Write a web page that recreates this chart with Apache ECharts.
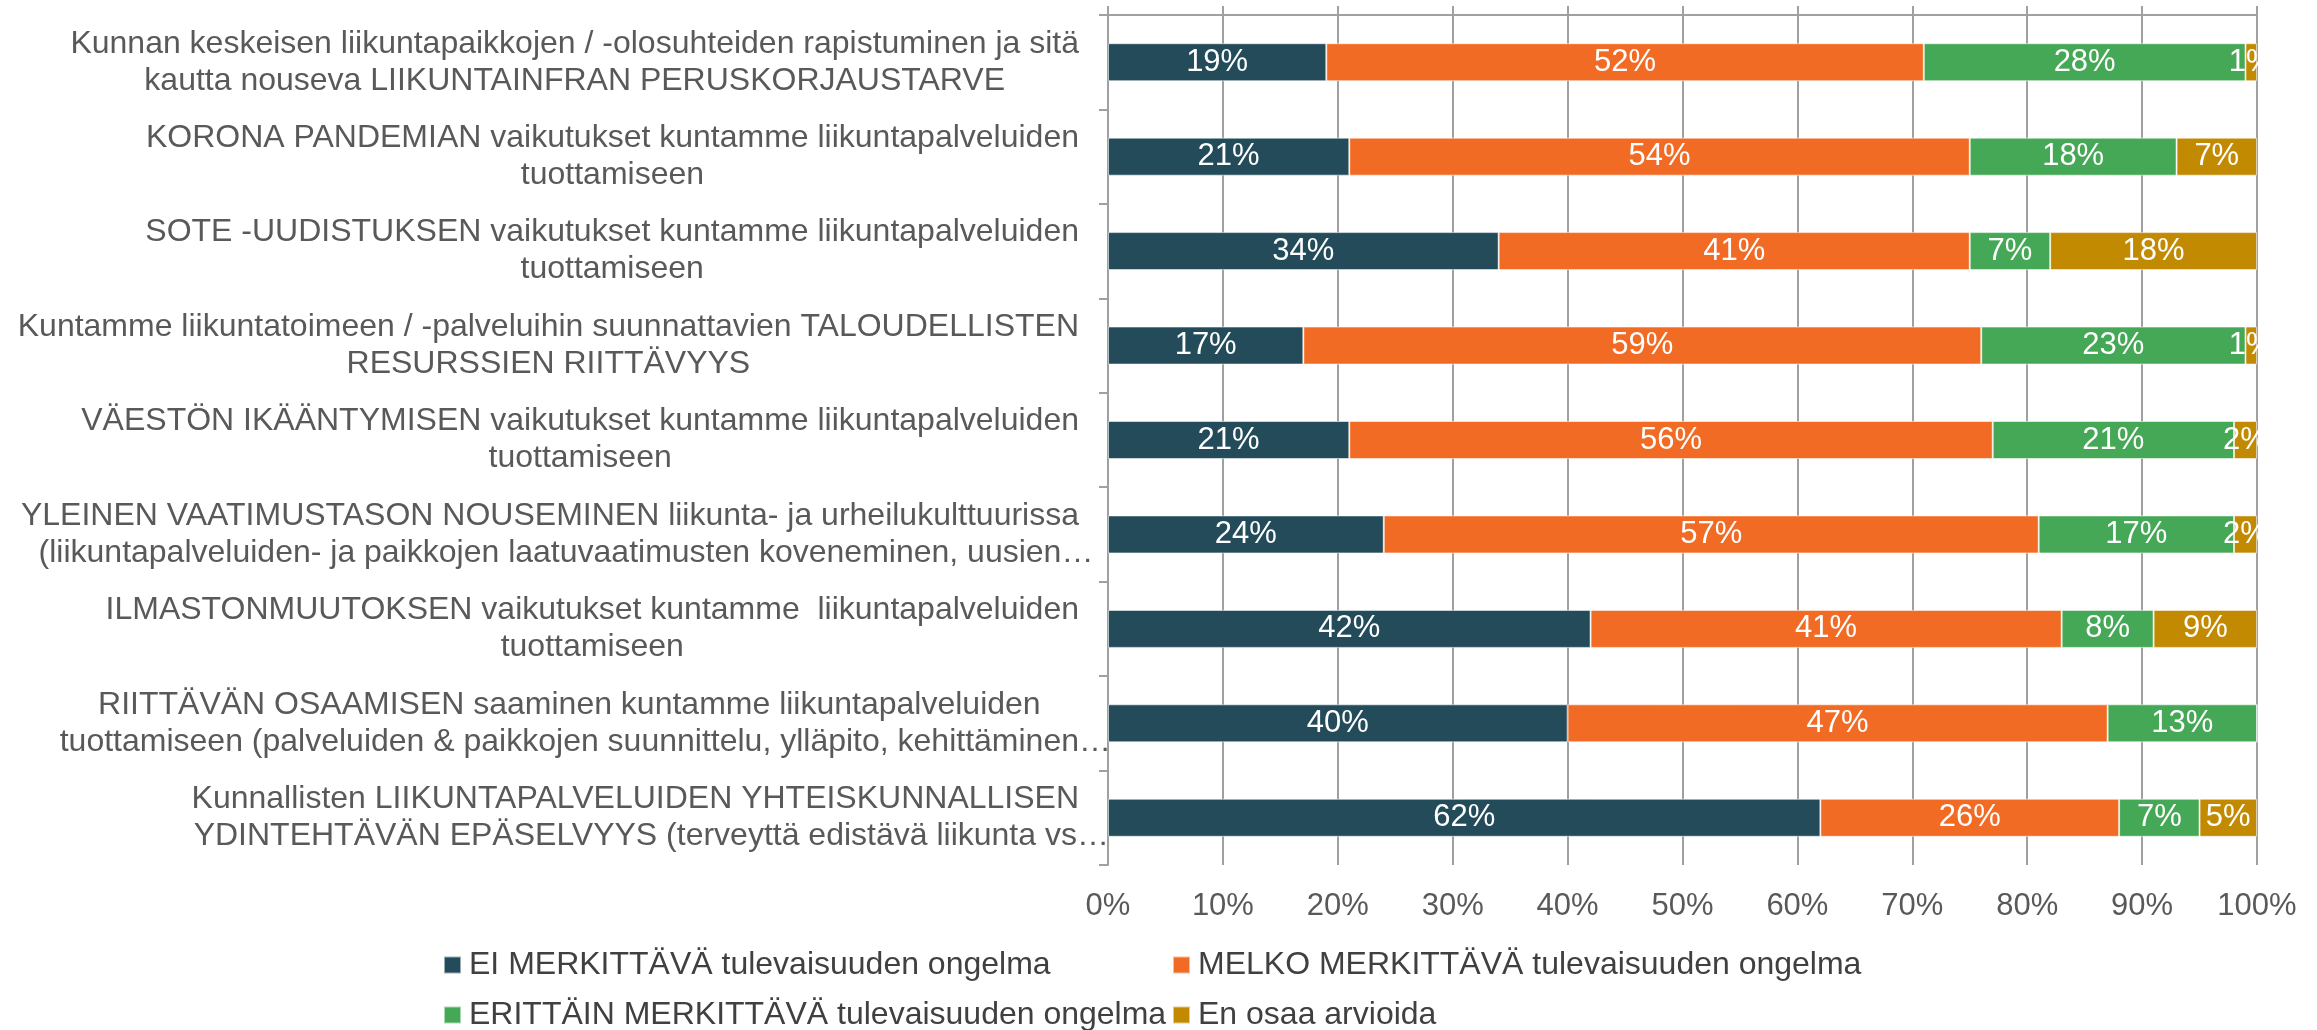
<!DOCTYPE html>
<html>
<head>
<meta charset="utf-8">
<title>Tulevaisuuden ongelmat</title>
<script src="https://cdn.jsdelivr.net/npm/echarts@6/dist/echarts.min.js"></script>
<style>
  html, body { margin: 0; padding: 0; background: #fff; }
  #chart { width: 2317px; height: 1030px; }
</style>
</head>
<body>
<div id="chart"></div>
<script>
const categories = [
  'Kunnan keskeisen liikuntapaikkojen / -olosuhteiden rapistuminen ja sitä\nkautta nouseva LIIKUNTAINFRAN PERUSKORJAUSTARVE',
  'KORONA PANDEMIAN vaikutukset kuntamme liikuntapalveluiden\ntuottamiseen',
  'SOTE -UUDISTUKSEN vaikutukset kuntamme liikuntapalveluiden\ntuottamiseen',
  'Kuntamme liikuntatoimeen / -palveluihin suunnattavien TALOUDELLISTEN\nRESURSSIEN RIITTÄVYYS',
  'VÄESTÖN IKÄÄNTYMISEN vaikutukset kuntamme liikuntapalveluiden\ntuottamiseen',
  'YLEINEN VAATIMUSTASON NOUSEMINEN liikunta- ja urheilukulttuurissa\n(liikuntapalveluiden- ja paikkojen laatuvaatimusten koveneminen, uusien…',
  'ILMASTONMUUTOKSEN vaikutukset kuntamme  liikuntapalveluiden\ntuottamiseen',
  'RIITTÄVÄN OSAAMISEN saaminen kuntamme liikuntapalveluiden\ntuottamiseen (palveluiden & paikkojen suunnittelu, ylläpito, kehittäminen…',
  'Kunnallisten LIIKUNTAPALVELUIDEN YHTEISKUNNALLISEN\nYDINTEHTÄVÄN EPÄSELVYYS (terveyttä edistävä liikunta vs…'
];

const seriesNames = [
  'EI MERKITTÄVÄ tulevaisuuden ongelma',
  'MELKO MERKITTÄVÄ tulevaisuuden ongelma',
  'ERITTÄIN MERKITTÄVÄ tulevaisuuden ongelma',
  'En osaa arvioida'
];

// percentages per category, top to bottom
const eiValues = [19, 21, 34, 17, 21, 24, 42, 40, 62];
const melkoValues = [52, 54, 41, 59, 56, 57, 41, 47, 26];
const erittainValues = [28, 18, 7, 23, 21, 17, 8, 13, 7];
const eosValues = [1, 7, 18, 1, 2, 2, 9, 0, 5];

const xTicks = [0, 10, 20, 30, 40, 50, 60, 70, 80, 90, 100];

const colors = ['#234b5a', '#f26b24', '#45a856', '#c18a00'];
const font = 'Liberation Sans, Arial, sans-serif';
const gridColor = '#a0a0a0';

let chart = echarts.init(document.getElementById('chart'));

let makeSeries = (name, values, color) => {
  return {
    name: name,
    type: 'bar',
    stack: 'total',
    barWidth: 38,
    data: values,
    itemStyle: {
      color: color,
      borderColor: 'rgba(255,255,255,0.55)',
      borderWidth: 1
    },
    label: {
      show: true,
      position: 'inside',
      color: '#fff',
      fontFamily: font,
      fontSize: 31,
      formatter: (p) => p.value ? p.value + '%' : ''
    }
  };
};

// each line centred in its block; a trailing ellipsis hangs past the block like in Excel
let formatCategory = (v) => {
  return v.split('\n').map(l => {
    if (l.endsWith('…')) {
      return '{c|' + l.slice(0, -1) + '}{e|\u2003…}';
    }
    return '{c|' + l + '}';
  }).join('\n');
};

// Excel-style two column legend, one legend per item
let legendPos = [[443, 949], [1172, 949], [443, 999], [1172, 999]];
let legends = seriesNames.map((n, i) => {
  return {
    data: [n],
    left: legendPos[i][0],
    top: legendPos[i][1],
    padding: 0,
    icon: 'rect',
    itemWidth: 17,
    itemHeight: 17,
    selectedMode: false,
    textStyle: {
      fontFamily: font,
      fontSize: 32,
      color: '#404040',
      padding: [0, 0, 0, 3]
    }
  };
});

let labelStyle = {
  align: 'center',
  fontFamily: font,
  fontSize: 32,
  lineHeight: 37,
  color: '#595959'
};

let options = {
  animation: false,
  color: colors,
  grid: {
    left: 1108,
    right: 60,
    top: 15,
    bottom: 165
  },
  legend: legends,
  xAxis: [
    {
      type: 'value',
      min: xTicks[0],
      max: xTicks[xTicks.length - 1],
      interval: 10,
      axisLine: { show: false },
      axisTick: { show: false },
      axisLabel: {
        formatter: '{value}%',
        color: '#595959',
        fontFamily: font,
        fontSize: 31,
        margin: 26
      },
      splitLine: {
        show: true,
        lineStyle: { color: gridColor, width: 2 }
      }
    },
    {
      type: 'value',
      position: 'top',
      min: xTicks[0],
      max: xTicks[xTicks.length - 1],
      interval: 10,
      axisLine: { show: true, lineStyle: { color: gridColor, width: 2 } },
      axisTick: { show: true, length: 9, lineStyle: { color: gridColor, width: 2 } },
      axisLabel: { show: false },
      splitLine: { show: false }
    }
  ],
  yAxis: {
    type: 'category',
    inverse: true,
    data: categories,
    axisLine: { show: true, lineStyle: { color: gridColor, width: 2 } },
    axisTick: { show: true, length: 9, lineStyle: { color: gridColor, width: 2 } },
    axisLabel: {
      margin: 29,
      formatter: formatCategory,
      rich: {
        c: labelStyle,
        e: Object.assign({}, labelStyle, { width: 0 })
      }
    }
  },
  // hides the part of small labels that runs past 100%
  graphic: [{
    type: 'rect',
    right: 0,
    top: 0,
    shape: { width: 58, height: 866 },
    style: { fill: '#fff' },
    z: 100
  }],
  series: [
    makeSeries(seriesNames[0], eiValues, colors[0]),
    makeSeries(seriesNames[1], melkoValues, colors[1]),
    makeSeries(seriesNames[2], erittainValues, colors[2]),
    makeSeries(seriesNames[3], eosValues, colors[3])
  ]
};

chart.setOption(options);
</script>
</body>
</html>
